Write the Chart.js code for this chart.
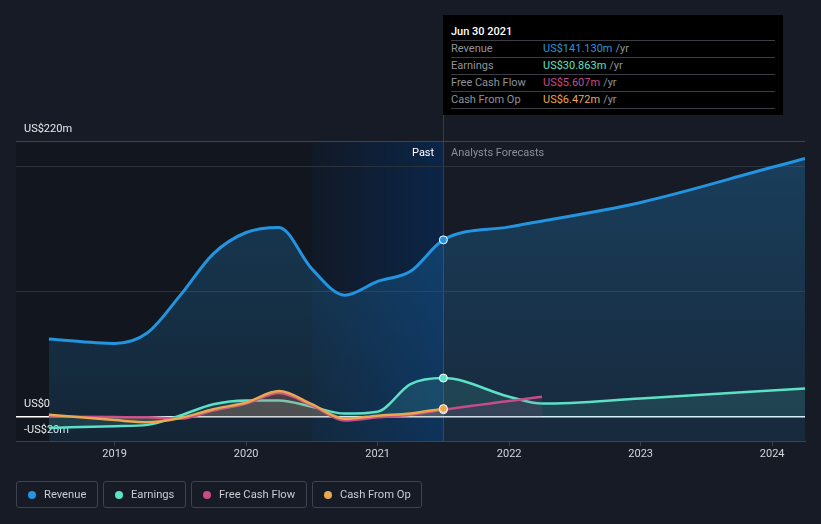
<!DOCTYPE html>
<html lang="en">
<head>
    <meta charset="UTF-8">
    <title>Revenue, Earnings and Cash Flow</title>
    <script src="https://cdn.jsdelivr.net/npm/chart.js"></script>
    <style>
        body {
            margin: 0;
            background: #161b26;
            font-family: Roboto, "Noto Sans", sans-serif;
        }
        #wrap {
            position: relative;
            width: 821px;
            height: 524px;
            overflow: hidden;
        }
        #chart {
            position: absolute;
            left: 0;
            top: 0;
        }
        .tip {
            position: absolute;
            left: 443px;
            top: 15px;
            width: 340px;
            height: 100px;
            background: #000;
            box-sizing: border-box;
            padding: 0 8px;
            font-size: 11px;
        }
        .tip .title {
            padding-top: 9px;
            height: 16px;
            line-height: 16px;
            color: #fff;
            font-weight: 500;
            border-bottom: 1px solid #3b3e44;
        }
        .tip .row {
            height: 16px;
            line-height: 16px;
            border-bottom: 1px solid #3b3e44;
            color: #8e939b;
            display: flex;
        }
        .tip .row .lbl { width: 92px; }
        .tip .row .unit { color: #8e939b; margin-left: 3px; }
        .note {
            position: absolute;
            top: 146px;
            font-size: 11px;
            line-height: 14px;
        }
        #legend {
            position: absolute;
            left: 16px;
            top: 481px;
            display: flex;
            gap: 5px;
        }
        .item {
            box-sizing: border-box;
            height: 27px;
            border: 1px solid #3d4350;
            border-radius: 3px;
            display: flex;
            align-items: center;
            padding-left: 11px;
            font-size: 11.2px;
            color: #c9ccd2;
        }
        .item .dot {
            width: 8px;
            height: 8px;
            border-radius: 50%;
            margin-right: 8px;
        }
    </style>
</head>
<body>
    <div id="wrap">
        <canvas id="chart" width="821" height="524"></canvas>
        <div class="note" style="left:412px;color:#fff;">Past</div>
        <div class="note" style="left:451px;color:#8a8f98;">Analysts Forecasts</div>
        <div class="tip">
            <div class="title">Jun 30 2021</div>
            <div class="row"><span class="lbl">Revenue</span><span style="color:#2394df">US$141.130m</span><span class="unit">/yr</span></div>
            <div class="row"><span class="lbl">Earnings</span><span style="color:#5ce0c6">US$30.863m</span><span class="unit">/yr</span></div>
            <div class="row"><span class="lbl">Free Cash Flow</span><span style="color:#c94b8a">US$5.607m</span><span class="unit">/yr</span></div>
            <div class="row"><span class="lbl">Cash From Op</span><span style="color:#e8a852">US$6.472m</span><span class="unit">/yr</span></div>
        </div>
        <div id="legend"></div>
    </div>

    <script>
        // years as decimals (2019.25 = Mar 2019 quarter end etc.)
        const pastYears = [2018.5, 2019, 2019.25, 2019.5, 2019.75, 2020, 2020.25, 2020.5, 2020.75, 2021, 2021.25, 2021.5];
        const revenuePast = [62, 58.5, 67, 97, 130, 147, 151, 118, 97, 108, 116, 141.13];
        const earningsPast = [-9, -7.5, -6.5, 1, 10, 13, 13, 8, 2.5, 4, 26, 30.863];
        const fcfPast = [0, -0.3, -0.5, -1.5, 5, 10.5, 19, 9, -3, -0.5, 1.6, 5.607];
        const cfoPast = [1.6, -2.7, -4.5, -1, 6, 11.4, 20.5, 10, -1.7, 0.8, 2.6, 6.472];

        const revenueFcYears = [2022, 2023, 2024, 2024.25];
        const revenueFc = [151.5, 171, 199, 206];
        const earningsFcYears = [2022, 2022.25, 2023, 2024.25];
        const earningsFc = [16, 10.5, 14.6, 22.6];
        const fcfFcYears = [2022.25];
        const fcfFc = [16];

        const xTicks = [2019, 2020, 2021, 2022, 2023, 2024];
        const yTicks = [-20, 0, 100, 200, 220];
        const yLabels = {'-20': '-US$20m', '0': 'US$0', '220': 'US$220m'};

        const bandStart = 2020.5;
        const nowYear = 2021.5;

        const names = ['Revenue', 'Earnings', 'Free Cash Flow', 'Cash From Op'];
        const colors = ['#2394df', '#5ce0c6', '#c94b8a', '#e8a852'];

        function pts(xs, ys) {
            return xs.map((x, i) => ({x: x, y: ys[i]}));
        }

        function nowRadius(ctx) {
            return ctx.raw && ctx.raw.x === nowYear ? 4 : 0;
        }

        const bands = {
            id: 'bands',
            beforeDraw(chart) {
                const {ctx, chartArea: a, scales: {x}} = chart;
                const xb = x.getPixelForValue(bandStart);
                const xn = x.getPixelForValue(nowYear);
                ctx.save();
                ctx.fillStyle = '#12161e';
                ctx.fillRect(a.left, a.top, xb - a.left, a.bottom - a.top);
                const g = ctx.createLinearGradient(xb, 0, xn, 0);
                g.addColorStop(0, '#111926');
                g.addColorStop(1, '#0b2548');
                ctx.fillStyle = g;
                ctx.fillRect(xb, a.top, xn - xb, a.bottom - a.top);
                ctx.strokeStyle = '#22416a';
                ctx.lineWidth = 1;
                ctx.beginPath();
                ctx.moveTo(Math.round(xn) + 0.5, 15);
                ctx.lineTo(Math.round(xn) + 0.5, a.bottom);
                ctx.stroke();
                ctx.restore();
            }
        };

        function revenueFill(context) {
            const area = context.chart.chartArea;
            if (!area) return 'rgba(35,148,223,0.2)';
            const g = context.chart.ctx.createLinearGradient(0, area.top, 0, area.bottom);
            g.addColorStop(0, 'rgba(35,148,223,0.30)');
            g.addColorStop(1, 'rgba(35,148,223,0.12)');
            return g;
        }

        const seriesData = [
            pts(pastYears.concat(revenueFcYears), revenuePast.concat(revenueFc)),
            pts(pastYears.concat(earningsFcYears), earningsPast.concat(earningsFc)),
            pts(pastYears.concat(fcfFcYears), fcfPast.concat(fcfFc)),
            pts(pastYears, cfoPast)
        ];
        const fills = [revenueFill, 'rgba(92,224,198,0.13)', 'rgba(201,75,138,0.12)', 'rgba(232,168,82,0.16)'];
        const fillTo = ['start', 'origin', 'origin', 'origin'];
        const widths = [3, 2.5, 2.5, 2.5];

        const datasets = names.map((n, i) => ({
            label: n,
            data: seriesData[i],
            borderColor: colors[i],
            backgroundColor: fills[i],
            fill: fillTo[i],
            borderWidth: widths[i],
            cubicInterpolationMode: 'monotone',
            pointRadius: nowRadius,
            pointBackgroundColor: colors[i],
            pointBorderColor: '#ffffff',
            pointBorderWidth: 1,
            order: i === 0 ? 4 : 3 - i
        }));

        const ctx = document.getElementById('chart').getContext('2d');
        new Chart(ctx, {
            type: 'line',
            data: {datasets: datasets},
            plugins: [bands],
            options: {
                responsive: false,
                animation: false,
                layout: {padding: {left: 0, right: 16, top: 141, bottom: 61}},
                plugins: {legend: {display: false}, tooltip: {enabled: false}},
                scales: {
                    x: {
                        type: 'linear',
                        min: 2018.25,
                        max: 2024.25,
                        afterBuildTicks: s => { s.ticks = xTicks.map(v => ({value: v})); },
                        grid: {drawOnChartArea: false, drawTicks: true, tickLength: 4, color: '#3a4150'},
                        border: {display: true, color: '#3a4150'},
                        ticks: {
                            color: '#d3d6db',
                            font: {family: 'Roboto', size: 11},
                            padding: 2,
                            maxRotation: 0,
                            callback: v => String(v)
                        }
                    },
                    y: {
                        min: -20,
                        max: 220,
                        afterBuildTicks: s => { s.ticks = yTicks.map(v => ({value: v})); },
                        border: {display: false},
                        grid: {
                            drawTicks: false,
                            color: c => c.tick.value === 0 ? '#ffffff' : (c.tick.value === 220 || c.tick.value === -20 ? '#3e4451' : '#2a313d'),
                            lineWidth: c => c.tick.value === 0 ? 1.5 : 1
                        },
                        ticks: {
                            mirror: true,
                            padding: 8,
                            labelOffset: -12,
                            color: '#e8eaed',
                            font: {family: 'Roboto', size: 11},
                            callback: v => yLabels[String(v)] || ''
                        }
                    }
                }
            }
        });

        // legend
        const legend = document.getElementById('legend');
        const legendWidths = [82, 83, 116, 110];
        names.forEach((n, i) => {
            const el = document.createElement('div');
            el.className = 'item';
            el.style.width = legendWidths[i] + 'px';
            el.innerHTML = '<span class="dot" style="background:' + colors[i] + '"></span>' + n;
            legend.appendChild(el);
        });
    </script>
</body>
</html>
